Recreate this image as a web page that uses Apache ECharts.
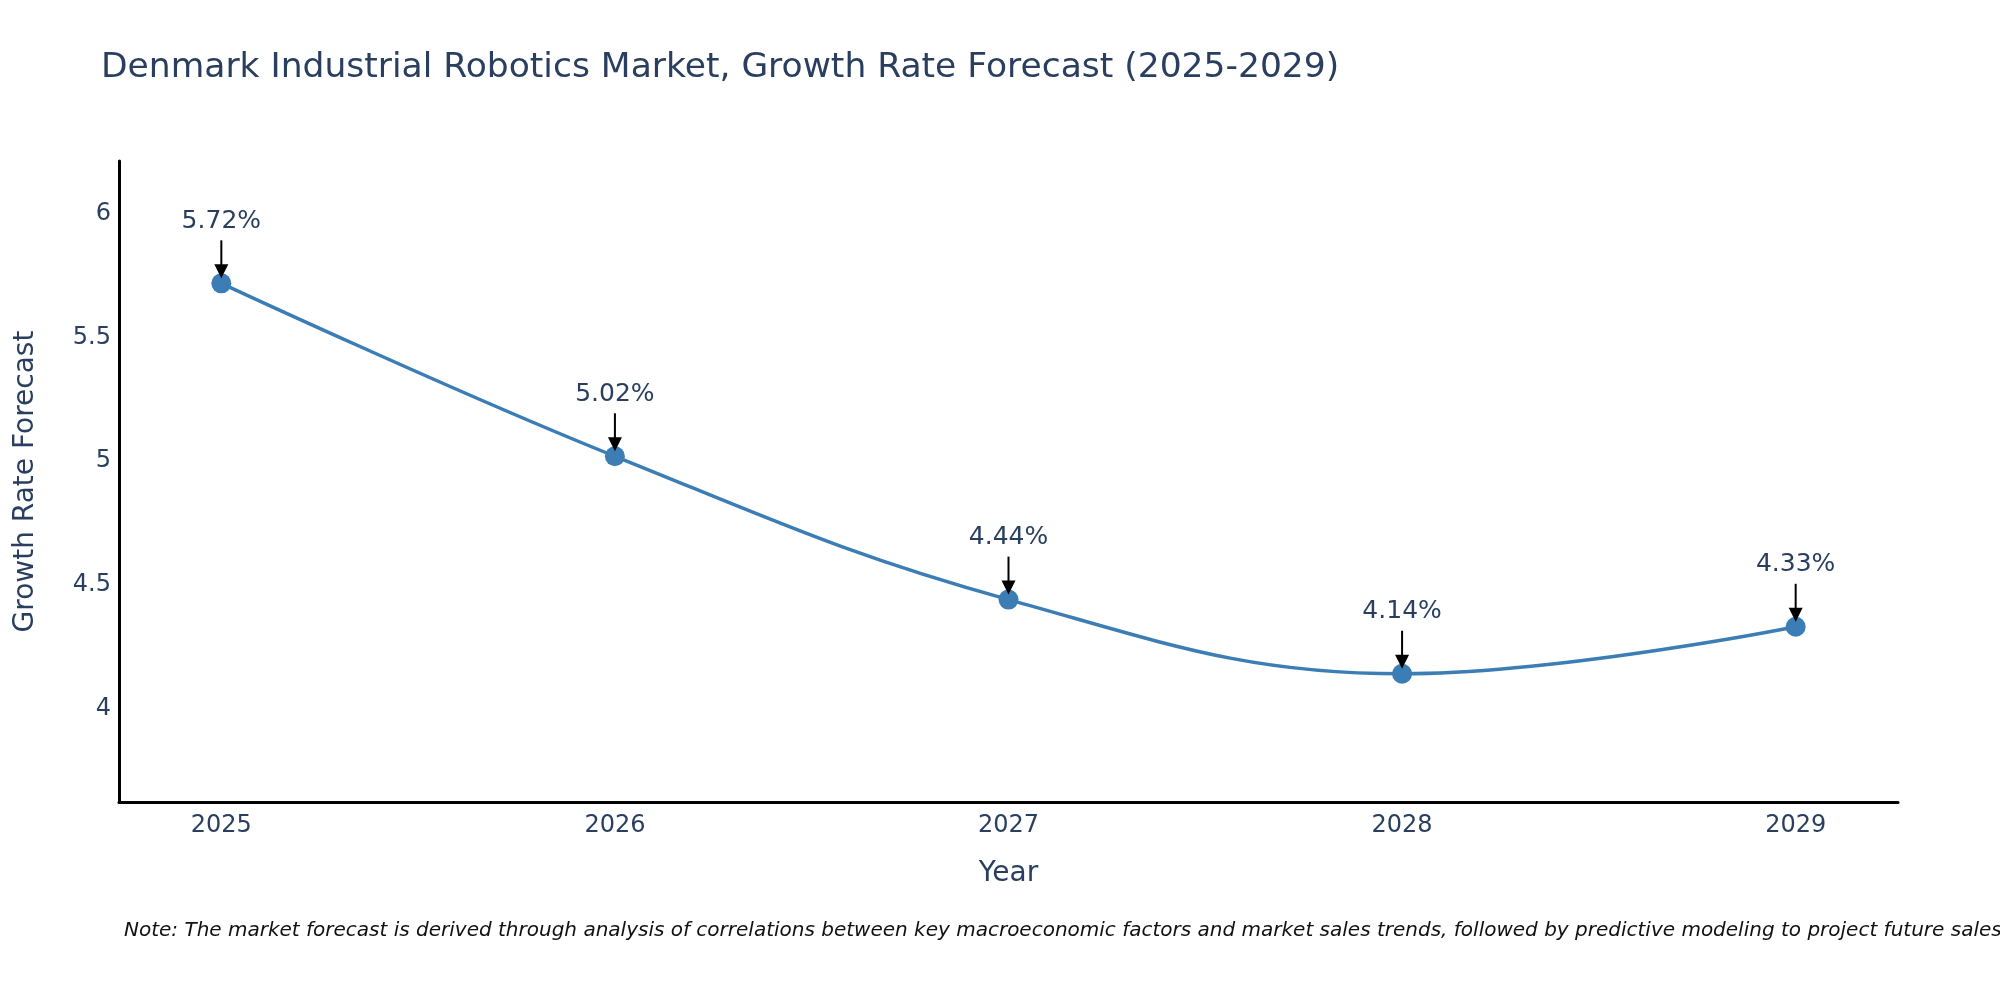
<!DOCTYPE html>
<html>
<head>
<meta charset="utf-8">
<title>Denmark Industrial Robotics Market, Growth Rate Forecast (2025-2029)</title>
<script src="https://cdn.jsdelivr.net/npm/echarts@6/dist/echarts.min.js"></script>
<style>
  html, body { margin: 0; padding: 0; background: #fff; }
  #chart { width: 2000px; height: 1000px; }
</style>
</head>
<body>
<div id="chart"></div>
<script>
// data
const years = [2025, 2026, 2027, 2028, 2029]
const growthRate = [5.72, 5.02, 4.44, 4.14, 4.33]
const yTicks = [4, 4.5, 5, 5.5, 6]

const points = years.map((y, i) => [y, growthRate[i]])

const TEXT = '#2a3f5f'
const FONT = '"DejaVu Sans", Verdana, sans-serif'

const chart = echarts.init(document.getElementById('chart'), null, { renderer: 'canvas' })

chart.setOption({
  backgroundColor: '#fff',
  animation: false,
  title: {
    text: 'Denmark Industrial Robotics Market, Growth Rate Forecast (2025-2029)',
    left: 96,
    top: 46,
    textStyle: { color: TEXT, fontFamily: FONT, fontSize: 34.5, fontWeight: 'normal' }
  },
  grid: { left: 119, right: 102, top: 161, bottom: 198 },
  xAxis: {
    type: 'value',
    min: 2024.74,
    max: 2029.26,
    name: 'Year',
    nameLocation: 'middle',
    nameGap: 58,
    nameTextStyle: { color: TEXT, fontFamily: FONT, fontSize: 28 },
    axisLine: { show: true, lineStyle: { color: '#000', width: 3 } },
    axisTick: { show: false },
    splitLine: { show: false },
    axisLabel: {
      customValues: years,
      formatter: v => String(v),
      color: TEXT, fontFamily: FONT, fontSize: 24, margin: 12
    }
  },
  yAxis: {
    type: 'value',
    min: 3.621,
    max: 6.215,
    name: 'Growth Rate Forecast',
    nameLocation: 'middle',
    nameGap: 79,
    nameTextStyle: { color: TEXT, fontFamily: FONT, fontSize: 28 },
    axisLine: { show: true, lineStyle: { color: '#000', width: 3 } },
    axisTick: { show: false },
    splitLine: { show: false },
    axisLabel: {
      customValues: yTicks,
      formatter: v => String(v),
      color: TEXT, fontFamily: FONT, fontSize: 24, margin: 8
    }
  },
  graphic: [{
    type: 'text',
    left: 124,
    top: 921,
    style: {
      text: 'Note: The market forecast is derived through analysis of correlations between key macroeconomic factors and market sales trends, followed by predictive modeling to project future sales.',
      fill: '#111',
      font: 'italic 20px "DejaVu Sans", Verdana, sans-serif'
    }
  }],
  series: [
    {
      type: 'line',
      data: points,
      smooth: 0.4,
      symbol: 'circle',
      symbolSize: 20,
      itemStyle: { color: '#3b7db4' },
      lineStyle: { color: '#3b7db4', width: 3.5 },
      z: 2
    },
    {
      // arrow annotations with the value above each point
      type: 'custom',
      data: points,
      z: 5,
      renderItem(params, api) {
        const p = api.coord([api.value(0), api.value(1)])
        const x = p[0], y = p[1]
        return {
          type: 'group',
          children: [
            {
              type: 'line',
              shape: { x1: x, y1: y - 43, x2: x, y2: y - 16 },
              style: { stroke: '#000', lineWidth: 2 }
            },
            {
              type: 'polygon',
              shape: { points: [[x - 7, y - 19], [x + 7, y - 19], [x, y - 5]] },
              style: { fill: '#000' }
            },
            {
              type: 'text',
              style: {
                text: api.value(1).toFixed(2) + '%',
                x: x,
                y: y - 62,
                align: 'center',
                verticalAlign: 'middle',
                fill: TEXT,
                fontFamily: FONT,
                fontSize: 25
              }
            }
          ]
        }
      }
    }
  ]
})
</script>
</body>
</html>
